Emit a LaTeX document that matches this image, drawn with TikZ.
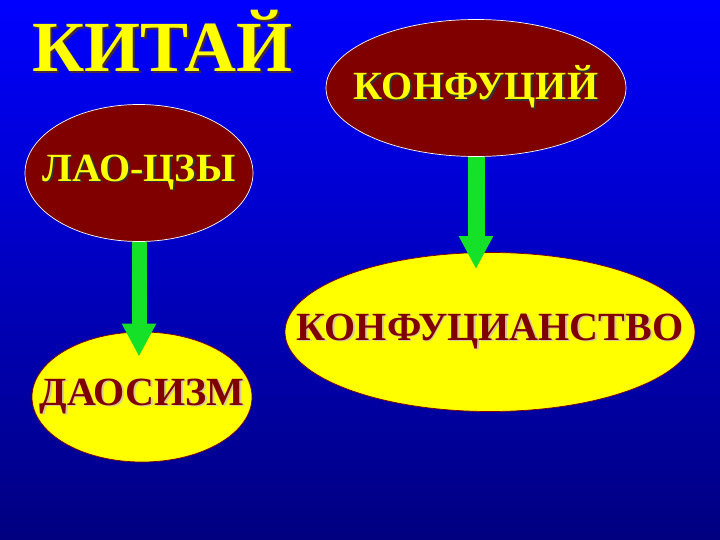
\documentclass[tikz,border=0pt]{standalone}
\usepackage{fontspec}
\setmainfont{Liberation Serif}
\usetikzlibrary{shapes.geometric,arrows.meta}
\definecolor{bgtop}{RGB}{0,0,255}
\definecolor{bgmid}{RGB}{0,0,215}
\definecolor{bgbot}{RGB}{0,0,128}
\definecolor{dred}{RGB}{128,0,0}
\definecolor{ylw}{RGB}{255,255,0}
\definecolor{grn}{RGB}{20,225,40}
\definecolor{darksh}{RGB}{70,40,60}
\definecolor{lightsh}{RGB}{215,200,150}
\newcommand\shtext[3]{\makebox[0pt][c]{\rlap{\kern1.6pt\raisebox{-1.6pt}{\color{#1}#3}}{\color{#2}#3}}}
\newcommand\shtitle[3]{\rlap{\kern1.8pt\raisebox{-1.8pt}{\color{#1}#3}}{\color{#2}#3}}
\tikzset{
  redell/.style={ellipse, fill=dred, draw=white, line width=0.7pt, inner sep=0pt,
    font=\fontsize{40}{40}\selectfont\bfseries},
  yelell/.style={ellipse, fill=ylw, draw=dred, line width=0.7pt, inner sep=0pt,
    font=\fontsize{40}{40}\selectfont\bfseries},
  grnarrow/.style={draw=grn, line width=#1, -{Triangle[width=32pt,length=33pt]}},
}
\begin{document}
\begin{tikzpicture}[x=1pt,y=-1pt]
\useasboundingbox (0,0) rectangle (720,540);
\shade[top color=bgtop, middle color=bgmid, bottom color=bgbot] (0,0) rectangle (720,540);
\node[anchor=base west, inner sep=0pt, font=\fontsize{72}{72}\selectfont\bfseries] (title) at (32,72) {\shtitle{darksh}{ylw}{КИТАЙ}};
\node[redell, minimum width=300pt, minimum height=137pt] (konf) at (476,88) {\shtext{black!80}{ylw}{КОНФУЦИЙ}};
\node[redell, minimum width=228pt, minimum height=137pt] (lao) at (139,173) {\shtext{black!80}{ylw}{ЛАО-ЦЗЫ}};
\node[yelell, minimum width=410pt, minimum height=159pt] (konfism) at (490,332) {\shtext{lightsh}{dred}{КОНФУЦИАНСТВО}};
\node[yelell, minimum width=220pt, minimum height=130pt] (dao) at (142,397) {\shtext{lightsh}{dred}{ДАОСИЗМ}};
\draw[grnarrow=15pt, shorten >=-25pt] (lao.south) -- (lao.south |- dao.north);
\draw[grnarrow=17pt, shorten >=-17pt] (konf.south) -- (konf.south |- konfism.north);
\end{tikzpicture}
\end{document}
